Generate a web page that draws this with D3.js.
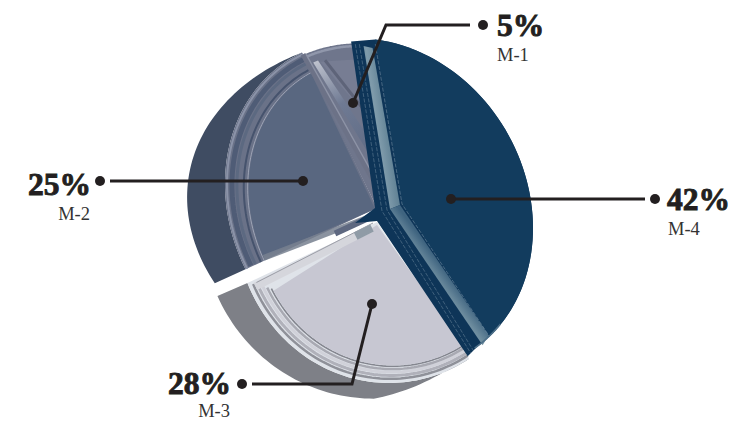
<!DOCTYPE html>
<html><head><meta charset="utf-8">
<script src="https://cdn.jsdelivr.net/npm/d3@7"></script>
<style>html,body{margin:0;padding:0;background:#fff;overflow:hidden}svg{display:block}</style>
</head><body><div id="c"></div>
<script>
// ---- data ----
const categories = ["M-4","M-3","M-2","M-1"];
const labelValues = [42,28,25,5];
// share of the turn each slice actually occupies in the drawing (the picture is not proportional to its labels)
const drawnShares = [43.2,28.6,20.6,7.6];

// ---- layout ----
const W=729,H=421;
const labelLayout = {
 "M-1":{dot:[353,103],elbow:[386,25],end:[470,25],mark:[483,25],tx:497,ty:36,sx:497,sy:61,anchor:"start"},
 "M-2":{dot:[303,181],elbow:null,end:[110,181],mark:[100,181],tx:91,ty:195,sx:90,sy:220,anchor:"end"},
 "M-3":{dot:[372,304],elbow:[352,384],end:[252,384],mark:[242,384],tx:231,ty:394,sx:230,sy:417,anchor:"end"},
 "M-4":{dot:[451,199],elbow:null,end:[645,199],mark:[655,199],tx:667,ty:210,sx:668,sy:235,anchor:"start"}
};
// perspective projection of the unit disc: ellipse centre, half axes, apex shift, and tilt of the disc
const cx=379,cy=208,A=154,B=20,C=163.6,persp=0.13,tilt=0.15;
const P0=(deg,r=1,ox=0,oy=0)=>{
  const t=deg*Math.PI/180,u=r*Math.sin(t),v=-r*Math.cos(t),w=1+persp*u;
  return [cx+(A*u+B)/w+ox,cy+C*v/w+oy];
};
const P=(deg,r=1,ox=0,oy=0)=>{
  const t=deg*Math.PI/180,u=r*Math.sin(t),v=-r*Math.cos(t),w=1+persp*u,x=(A*u+B)/w;
  return [cx+x+ox,cy+C*v/w+tilt*(x-B)+oy];
};
const arcWith=(fn)=>(a,b,r=1,ox=0,oy=0,n=60)=>d3.range(n+1).map(i=>fn(a+(b-a)*i/n,r,ox,oy));
const arcPts=arcWith(P), arcPts0=arcWith(P0);
const line=d3.line();
const poly=pts=>line(pts)+"Z";

const svg=d3.select("#c").append("svg").attr("width",W).attr("height",H);
const defs=svg.append("defs");
const grad=(id,stops,x1,y1,x2,y2)=>{
  const g=defs.append("linearGradient").attr("id",id).attr("gradientUnits","userSpaceOnUse")
   .attr("x1",x1).attr("y1",y1).attr("x2",x2).attr("y2",y2);
  stops.forEach(s=>g.append("stop").attr("offset",s[0]).attr("stop-color",s[1]));
  return `url(#${id})`;
};
const pie=d3.pie().sort(null).startAngle(-8.9*Math.PI/180).endAngle((360-8.9)*Math.PI/180).value(d=>d);
const arcs=pie(drawnShares).map(d=>({a:d.startAngle*180/Math.PI,b:d.endAngle*180/Math.PI}));
const [m4,m3,m2,m1]=arcs;
const g=svg.append("g");
const fill=(pts,c,extra={})=>{const p=g.append("path").attr("d",poly(pts)).attr("fill",c);
  Object.entries(extra).forEach(([k,v])=>p.attr(k,v));return p;};
const stroke=(pts,c,w,extra={})=>{const p=g.append("path").attr("d",line(pts)).attr("fill","none")
  .attr("stroke",c).attr("stroke-width",w);Object.entries(extra).forEach(([k,v])=>p.attr(k,v));return p;};

const m2a=m2.a-6, m3a=m3.a+8.6, m2oy=2;
// --- side walls ---
{ // M-2 wall
  const ox=0,oy=m2oy,a=m2a,b=m2.b;
  const top=arcPts(a,b,1,ox,oy);
  const ext=top.map((q,i)=>{const f=1-i/60;return [q[0]-38*Math.sin(f*Math.PI*.7),q[1]+14*f];});
  fill(top.concat(ext.reverse()),"#3f4c62");
}
{ // M-3 wall
  const ox=10,oy=10,a=m3a,b=m3.b;
  const top=arcPts0(a,b,1,ox,oy);
  const ext=top.map((q,i)=>{const f=i/60;return [q[0]-30*Math.sqrt(f),q[1]+17*Math.min(1,f*3)-4*f];});
  fill(top.concat(ext.reverse()),"#7e8087");
}
// --- M-1 face ---
{
  const A0=P(0,0,-22,0),oy=5;
  fill([A0].concat(arcPts(m1.a,m1.b,1,0,oy)),"#6f768c");
  stroke(arcPts(m1.a+1,m1.b,0.985,0,oy),"#9097ab",2.5);
  const c=(d,r,x=0,y=0)=>P(d,r,x,y);
  fill([c(m1.a+5,.94,0,oy+1),c(m1.b-3,.92,0,oy+1),c(m1.b-3,.42,0,0)],"#777d93");
  fill([c(m1.a+2.5,.95,0,oy+1),c(m1.a+4.5,.95,0,oy+1),c(m1.a+11,.40,0,0),c(m1.a+8,.12,0,0)],grad("g1",[[0,"#c0c4cf"],[.35,"#6f7a93"],[1,"#56637d"]],315,60,380,190));
  stroke([c(m1.a+7,.94,0,oy+1),c(m1.b-3,.42,0,0)],"#5e6479",3);
}
// --- M-2 face ---
{
  const ox=0,oy=m2oy,a=m2a,b=m2.b,Ap=P(0,0,-22,0);
  fill([Ap].concat(arcPts(a,b,1,ox,oy)),"#6a7288");
  stroke(arcPts(a,b,.99,ox,oy),"#8b93a8",2);
  stroke(arcPts(a+.5,b-1,.965,ox,oy),"#4f5c76",5);
  stroke(arcPts(a+.5,b-1,.94,ox,oy),"#5c6981",3);
  stroke(arcPts(a+1,b-2,.915,ox+2,oy+1),"#46536d",2);
  stroke(arcPts(a+1,b-2,.9,ox+3,oy+1),"#a9b0c0",.8);
  const inner=arcPts(a+2.5,b-2.4,.9,ox+4,oy+1);
  fill([P(0,0,-24,1)].concat(inner),"#596780");
  // upper radial frame
  stroke([P(b,.99,ox,oy),P(0,0,-12,-3)],"#6c7287",5);
  stroke([P(b,.99,ox+3,oy),P(0,0,-9,-3)],"#8d93a6",1.5);
  // lower radial frame
  const lo=P(a+2.2,.9,ox+4,oy+1), lo2=P(0,0,-24,7);
  stroke([lo,lo2],"#77808f",6,{"stroke-opacity":.85});
  stroke([[lo2[0]-40,lo2[1]+18.5],lo2],"#5e6880",6);
}
// --- M-3 face ---
{
  const ox=10,oy=10,a=m3a,b=m3.b,Ap=P0(0,0,-22,14);
  const outer=arcPts0(a,b,1,ox,oy);
  fill([Ap].concat(outer),"#dfe3e9");
  stroke(arcPts0(a,b-1,.975,ox,oy),"#8f9199",2.5);
  stroke(arcPts0(a,b-2,.955,ox,oy),"#b0b1ba",3);
  stroke(arcPts0(a,b-3,.935,ox,oy),"#d0d1d9",3);
  stroke(arcPts0(a,b-4,.917,ox,oy),"#a8a9b2",2.5);
  stroke(arcPts0(a,b-5,.9,ox,oy),"#84868f",1.6);
  const inner=arcPts0(a,b-6,.895,ox,oy);
  fill([P0(0,0,-22,17)].concat(inner),"#c7c7d2");
  const c0=P0(b,1,ox,oy), c1=P0(0,0,-22,14);
  const e=[c0[0]+8,c0[1]+3.5], e2=[c1[0]-5,c1[1]+6];
  stroke([e,e2],"#d5d6dc",8);
  stroke([[e[0]+1,e[1]-4],[e2[0]+1,e2[1]-5]],"#9b9da6",1);
  const s=d3.interpolateArray(e,e2)(.86);
  stroke([s,e2],"#8f9ba6",8);
}
// --- M-4: wall then face ---
{
  const a=m4.a,b=m4.b;
  const wall=[P(a,1,-24,2),...arcPts(a,b,1),P(b,1,-9,9),P(0,0,-22,13),P(0,0,-44,15),P(0,0,-24,0)];
  fill(wall,"#0e3558");
  const face=[P(0,0,3,-4),...arcPts(a,b-7,1,0,0)];
  fill(face,"#123c5e");
  // rim bands along the two radial edges
  const bandG=grad("bu",[[0,"#56788c"],[.5,"#7f9bab"],[1,"#4f7388"]],360,130,395,125);
  const bandL=grad("bl",[[0,"#86a0af"],[.5,"#6d8c9e"],[1,"#3f6480"]],425,285,445,270);
  fill([P(a,.98,-12,3),P(a,.98,-3,5),P(0,0,1,-3),P(0,0,-9,1)],bandG);
  fill([P(0,0,-9,1),P(0,0,1,-3),P(b-7,.99,0,0),P(b-7,.99,-6,10)],bandL);
  const dash={"stroke-dasharray":"4 1.5","stroke-opacity":.45};
  stroke([P(a,.99,0,3),P(0,0,3,-4),P(b-7,1)],"#c7d7df",.7,dash);
  stroke([P(a,.99,-16,3),P(0,0,-12,2),P(b,1,-3,4)],"#c7d7df",.6,dash);
  stroke([P(a,.99,-20,3),P(0,0,-17,3),P(b,1,-6,6)],"#c7d7df",.6,dash);
  stroke(arcPts(b-14,b+1,.997),"#4e7089",1.6);
}
// --- leaders and labels ---
const ink="#231f20";
categories.forEach((name,i)=>{
  const L=labelLayout[name];
  const pts=[L.dot].concat(L.elbow?[L.elbow]:[],[L.end]);
  stroke(pts,ink,3,{"stroke-linejoin":"miter"});
  svg.append("circle").attr("cx",L.dot[0]).attr("cy",L.dot[1]).attr("r",5).attr("fill",ink);
  svg.append("circle").attr("cx",L.mark[0]).attr("cy",L.mark[1]).attr("r",5).attr("fill",ink);
  svg.append("text").attr("x",L.tx).attr("y",L.ty).attr("text-anchor",L.anchor)
    .attr("font-family","'Liberation Serif',serif").attr("font-weight",700).attr("font-size",31.5)
    .attr("fill",ink).attr("stroke",ink).attr("stroke-width",.9).text(labelValues[i]+"%");
  svg.append("text").attr("x",L.sx).attr("y",L.sy).attr("text-anchor",L.anchor)
    .attr("font-family","'Liberation Serif',serif").attr("font-size",18.5).attr("fill","#333").text(name);
});
</script></body></html>
